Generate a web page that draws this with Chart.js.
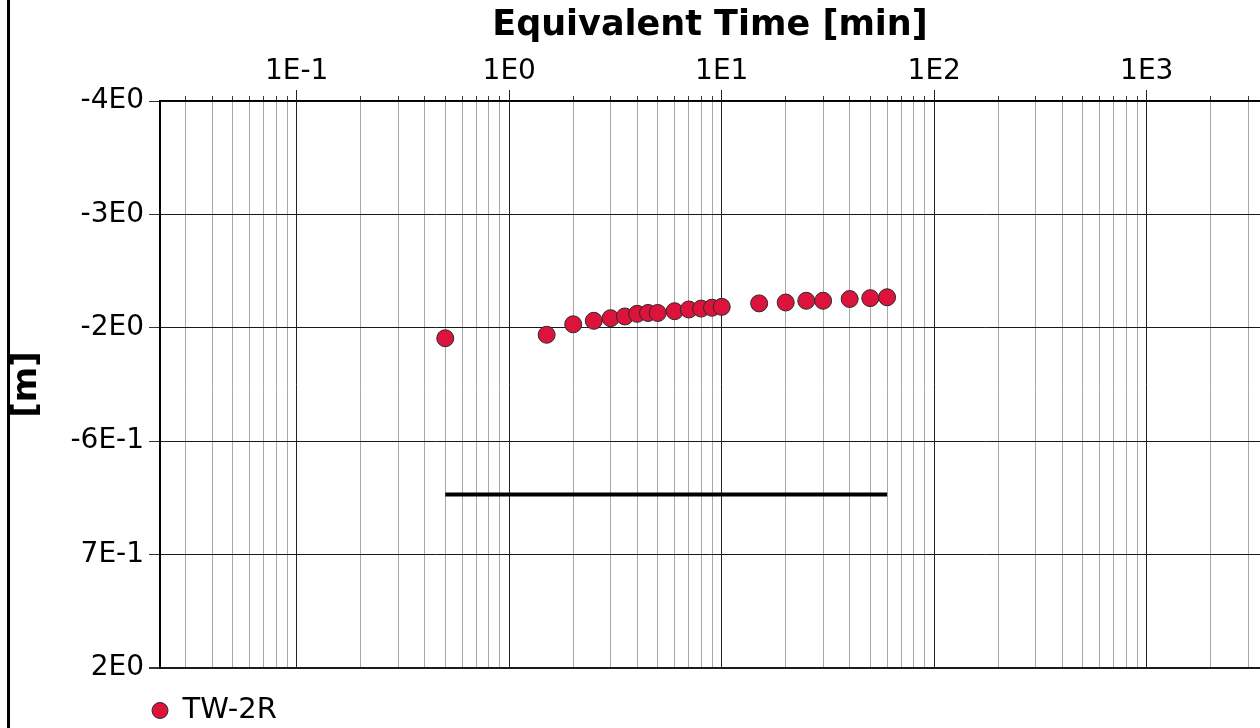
<!DOCTYPE html>
<html>
<head>
<meta charset="utf-8">
<script src="https://cdn.jsdelivr.net/npm/chart.js@4/dist/chart.umd.min.js"></script>
<style>
html,body{margin:0;padding:0;background:#fff;overflow:hidden;}
#wrap{position:relative;width:1260px;height:728px;background:#fff;}
#frame{position:absolute;left:7px;top:0;width:3px;height:728px;background:#000;}
canvas{display:block;}
</style>
</head>
<body>
<div id="wrap"><canvas id="c" width="1260" height="728"></canvas><div id="frame"></div></div>
<script>
// ---- data ----
const seriesName = 'TW-2R';
const timeMin = [0.5, 1.5, 2, 2.5, 3, 3.5, 4, 4.5, 5, 6, 7, 8, 9, 10, 15, 20, 25, 30, 40, 50, 60];
const depthM  = [-1.73, -1.77, -1.89, -1.93, -1.96, -1.98, -2.01, -2.02, -2.02, -2.04, -2.06, -2.07, -2.08, -2.09, -2.13, -2.14, -2.16, -2.16, -2.18, -2.19, -2.20];
const lineTime  = [0.5, 60];
const lineDepth = [0.06, 0.06];
const xMajorValues = [0.1, 1, 10, 100, 1000];
const xMajorLabels = ['1E-1', '1E0', '1E1', '1E2', '1E3'];
const yTickValues = [-4.45, -3.15, -1.85, -0.55, 0.75, 2.05];
const yTickLabels = ['-4E0', '-3E0', '-2E0', '-6E-1', '7E-1', '2E0'];
const xRange = [0.02273, 3412];

Chart.defaults.font.family = "'DejaVu Sans', Verdana, sans-serif";
Chart.defaults.color = '#000';

function majorIndex(v) {
  return xMajorValues.findIndex(m => Math.abs(v / m - 1) < 1e-6);
}

const decadeTicks = {
  id: 'decadeTicks',
  afterDatasetsDraw(chart) {
    const xs = chart.scales.x, top = chart.chartArea.top, ctx = chart.ctx;
    ctx.save();
    ctx.strokeStyle = '#222';
    ctx.lineWidth = 1;
    xMajorValues.forEach(v => {
      if (v < xs.min || v > xs.max) return;
      const px = Math.round(xs.getPixelForValue(v) - 0.5) + 0.5;
      ctx.beginPath();
      ctx.moveTo(px, top - 11);
      ctx.lineTo(px, top);
      ctx.stroke();
    });
    ctx.restore();
  }
};

const legendPlace = {
  id: 'legendPlace',
  afterLayout(chart) {
    const lg = chart.legend, ca = chart.chartArea;
    if (!lg) return;
    const pad = lg.options.labels.padding;
    const w = lg.right - lg.left, h = lg.bottom - lg.top;
    lg.left = ca.left - 8 - pad; lg.right = lg.left + w;
    lg.top = ca.bottom + 18; lg.bottom = lg.top + h;
  }
};

new Chart(document.getElementById('c'), {
  type: 'scatter',
  data: {
    datasets: [
      {
        label: seriesName,
        data: timeMin.map((t, i) => ({x: t, y: depthM[i]})),
        backgroundColor: '#DC143C',
        borderColor: '#2a2a2a',
        pointBackgroundColor: '#DC143C',
        pointBorderColor: '#2a2a2a',
        pointBorderWidth: 1,
        pointRadius: 8.5,
        showLine: false,
        order: 0
      },
      {
        label: 'level',
        data: lineTime.map((t, i) => ({x: t, y: lineDepth[i]})),
        showLine: true,
        borderColor: '#000',
        backgroundColor: '#000',
        borderWidth: 4,
        pointRadius: 0,
        order: 1
      }
    ]
  },
  options: {
    responsive: false,
    animation: false,
    events: [],
    layout: {autoPadding: false, padding: {left: 0, right: 0, top: 0, bottom: 11}},
    plugins: {
      tooltip: {enabled: false},
      legend: {
        position: 'bottom',
        align: 'start',
        labels: {
          filter: item => item.datasetIndex === 0,
          usePointStyle: true,
          pointStyle: 'circle',
          boxHeight: 11.3,
          pointStyleWidth: 16,
          padding: 10,
          font: {size: 29},
          color: '#000'
        }
      }
    },
    scales: {
      x: {
        type: 'logarithmic',
        position: 'top',
        min: xRange[0],
        max: xRange[1],
        afterFit: s => { s.height = 101; },
        afterBuildTicks: s => {
          s.ticks = s.ticks.filter(t => {
            const m = t.value / Math.pow(10, Math.floor(Math.log10(t.value) + 1e-9));
            return Math.abs(m - Math.round(m)) < 1e-6;
          });
        },
        title: {
          display: true,
          text: 'Equivalent Time [min]',
          font: {size: 35, weight: 'bold'},
          padding: {top: 5, bottom: 0},
          color: '#000'
        },
        ticks: {
          autoSkip: false,
          maxRotation: 0,
          padding: 7.5,
          font: {size: 28},
          color: '#000',
          callback: v => { const i = majorIndex(v); return i >= 0 ? xMajorLabels[i] : ''; }
        },
        grid: {
          color: c => (c.tick && majorIndex(c.tick.value) >= 0) ? '#222' : '#a8a8a8',
          lineWidth: 1,
          tickColor: '#333',
          tickLength: 5
        },
        border: {display: true, color: '#000', width: 1.5}
      },
      y: {
        type: 'linear',
        reverse: true,
        min: yTickValues[0],
        max: yTickValues[yTickValues.length - 1],
        afterFit: s => { s.width = 160; },
        afterBuildTicks: s => { s.ticks = yTickValues.map(v => ({value: v})); },
        title: {
          display: true,
          text: '[m]',
          font: {size: 34, weight: 'bold'},
          padding: {top: 7, bottom: 0},
          color: '#000'
        },
        ticks: {
          padding: 5,
          font: {size: 28},
          color: '#000',
          callback: (v, i) => yTickLabels[i]
        },
        grid: {
          color: '#1a1a1a',
          lineWidth: c => (c.index === yTickValues.length - 1 ? 2 : 1),
          tickColor: '#333',
          tickLength: 11
        },
        border: {display: true, color: '#000', width: 2}
      }
    }
  },
  plugins: [decadeTicks, legendPlace]
});
</script>
</body>
</html>
